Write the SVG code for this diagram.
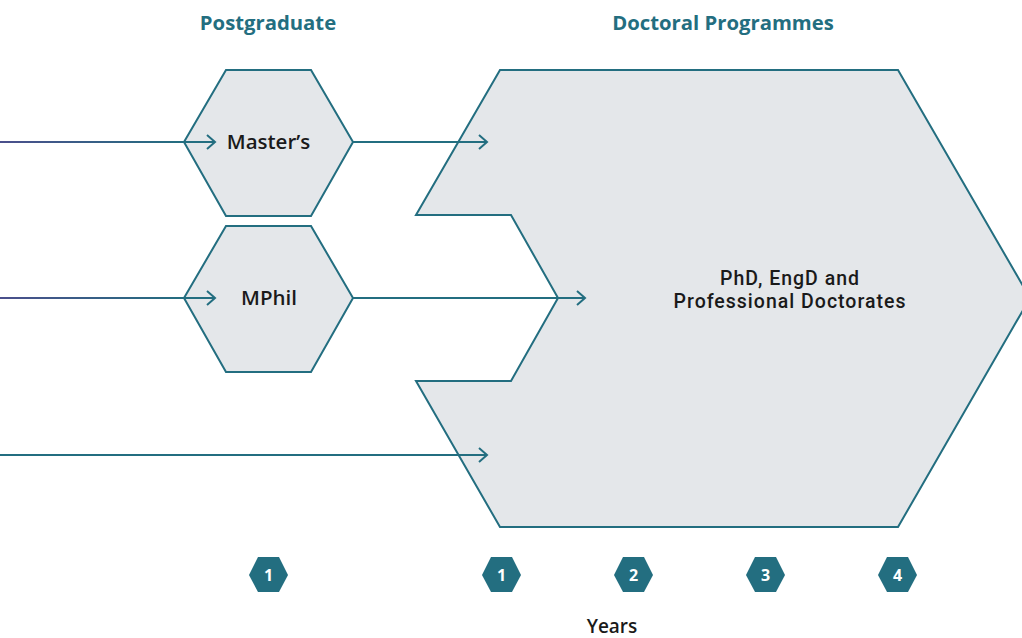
<svg xmlns="http://www.w3.org/2000/svg" width="1022" height="638" viewBox="0 0 1022 638">
<style>
.shape{fill:#e4e7ea;stroke:#236e80;stroke-width:2;stroke-linejoin:miter}
.conn{fill:none;stroke-width:2}
.title{font-family:"Open Sans","Liberation Sans",sans-serif;font-weight:700;font-size:20.3px;fill:#236e80;text-anchor:middle}
.label{font-family:"Open Sans","Liberation Sans",sans-serif;font-weight:600;font-size:20.5px;fill:#1a1a1a;text-anchor:middle}
.big{font-family:Roboto,"Liberation Sans",sans-serif;font-weight:500;font-size:19.5px;letter-spacing:1px}
.years{font-size:19px}
.badge{fill:#236e80}
.num{font-family:"Open Sans","Liberation Sans",sans-serif;font-weight:700;font-size:16px;fill:#ffffff;text-anchor:middle}
</style>
<defs>
<linearGradient id="g1" gradientUnits="userSpaceOnUse" x1="0" y1="0" x2="184" y2="0">
<stop offset="0" stop-color="#4b4f8c"/>
<stop offset="1" stop-color="#236e80"/>
</linearGradient>
<marker id="arr" markerWidth="14" markerHeight="16" refX="11" refY="8" orient="auto" markerUnits="userSpaceOnUse">
<path d="M3,1 L11,8 L3,15" fill="none" stroke="#236e80" stroke-width="2"/>
</marker>
</defs>
<text class="title" x="268" y="30">Postgraduate</text>
<text class="title" x="723" y="30">Doctoral Programmes</text>
<g id="doctoral">
<path class="shape" d="M500,70 L898,70 L1030,298 L898,527 L500,527 L416,381 L511,381 L558,298 L511,215 L416,215 Z"/>
<text class="label big" x="790" y="285">PhD, EngD and</text>
<text class="label big" x="790" y="308">Professional Doctorates</text>
</g>
<g id="masters">
<path class="shape" d="M184,142 L226,70 L311,70 L353,142 L311,216 L226,216 Z"/>
<text class="label" x="268.5" y="149">Master’s</text>
</g>
<g id="mphil">
<path class="shape" d="M184,298 L226,226 L311,226 L353,298 L311,372 L226,372 Z"/>
<text class="label" x="269" y="305">MPhil</text>
</g>
<g id="connectors">
<line class="conn" x1="0" y1="142" x2="184" y2="142" stroke="url(#g1)"/>
<line class="conn" x1="184" y1="142" x2="215" y2="142" stroke="#236e80" marker-end="url(#arr)"/>
<line class="conn" x1="353" y1="142" x2="487" y2="142" stroke="#236e80" marker-end="url(#arr)"/>
<line class="conn" x1="0" y1="298" x2="184" y2="298" stroke="url(#g1)"/>
<line class="conn" x1="184" y1="298" x2="215" y2="298" stroke="#236e80" marker-end="url(#arr)"/>
<line class="conn" x1="353" y1="298" x2="585" y2="298" stroke="#236e80" marker-end="url(#arr)"/>
<line class="conn" x1="0" y1="455" x2="487" y2="455" stroke="#236e80" marker-end="url(#arr)"/>
</g>
<g id="badge-pg1">
<path class="badge" d="M249,575 L258,557 L279,557 L288,575 L279,592 L258,592 Z"/>
<text class="num" x="268.5" y="581">1</text>
</g>
<g id="badge-y1">
<path class="badge" d="M482,575 L491,557 L512,557 L521,575 L512,592 L491,592 Z"/>
<text class="num" x="501.5" y="581">1</text>
</g>
<g id="badge-y2">
<path class="badge" d="M614,575 L623,557 L644,557 L653,575 L644,592 L623,592 Z"/>
<text class="num" x="633.5" y="581">2</text>
</g>
<g id="badge-y3">
<path class="badge" d="M746,575 L755,557 L776,557 L785,575 L776,592 L755,592 Z"/>
<text class="num" x="765.5" y="581">3</text>
</g>
<g id="badge-y4">
<path class="badge" d="M878,575 L887,557 L908,557 L917,575 L908,592 L887,592 Z"/>
<text class="num" x="897.5" y="581">4</text>
</g>
<text class="label years" x="612" y="633">Years</text>
</svg>
